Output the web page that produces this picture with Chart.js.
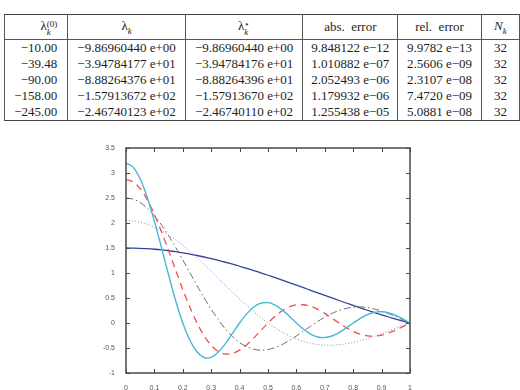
<!DOCTYPE html>
<html>
<head>
<meta charset="utf-8">
<script src="https://cdn.jsdelivr.net/npm/chart.js@4.4.1/dist/chart.umd.min.js"></script>
<style>
  html, body { margin: 0; padding: 0; background: #fff; width: 520px; height: 390px; overflow: hidden; position: relative; }
  #tbl { position: absolute; left: 4px; top: 14px; border-collapse: collapse; table-layout: fixed;
         font-family: "Liberation Serif", "DejaVu Serif", serif; font-size: 13px; color: #1e1e1e; }
  #tbl th, #tbl td { border-left: 1px solid #555; border-right: 1px solid #555; padding: 0; white-space: nowrap; text-align: center; }
  #tbl thead tr { height: 25px; border-top: 1.5px solid #444; border-bottom: 1px solid #555; }
  #tbl tbody tr { height: 15px; }
  #tbl tbody tr:last-child { border-bottom: 1.5px solid #444; }
  #tbl th { font-weight: normal; font-size: 13px; }
  #tbl .c0 { text-align: right; padding-right: 10px; }
  .ss { display: inline-block; vertical-align: -5px; line-height: 8px; font-size: 9px; text-align: left; }
  .ss span { display: block; }
  i { font-style: italic; }
  sub { font-size: 9px; }
  #wrap { position: absolute; left: 90px; top: 140px; width: 330px; height: 250px; }
</style>
</head>
<body>
<table id="tbl">
  <colgroup>
    <col style="width:64px"><col style="width:119px"><col style="width:119px">
    <col style="width:96px"><col style="width:85px"><col style="width:40px">
  </colgroup>
  <thead>
    <tr>
      <th class="c0">λ<span class="ss"><span>(0)</span><span><i>k</i></span></span></th>
      <th>λ<sub><i>k</i></sub></th>
      <th>λ<span class="ss"><span>⋆</span><span><i>k</i></span></span></th>
      <th>abs.&nbsp; error</th>
      <th>rel.&nbsp; error</th>
      <th><i>N</i><sub><i>k</i></sub></th>
    </tr>
  </thead>
  <tbody id="rows"></tbody>
</table>
<div id="wrap"><canvas id="modesCanvas" width="330" height="250"></canvas></div>
<script>
// table values
const lambda0 = ['−10.00', '−39.48', '−90.00', '−158.00', '−245.00'];
const lambdaK = ['−9.86960440 e+00', '−3.94784177 e+01', '−8.88264376 e+01', '−1.57913672 e+02', '−2.46740123 e+02'];
const lambdaStar = ['−9.86960440 e+00', '−3.94784176 e+01', '−8.88264396 e+01', '−1.57913670 e+02', '−2.46740110 e+02'];
const absErr = ['9.848122 e−12', '1.010882 e−07', '2.052493 e−06', '1.179932 e−06', '1.255438 e−05'];
const relErr = ['9.9782 e−13', '2.5606 e−09', '2.3107 e−08', '7.4720 e−09', '5.0881 e−08'];
const nK = ['32', '32', '32', '32', '32'];

// plot values
const xs = [0, 0.025, 0.05, 0.075, 0.1, 0.125, 0.15, 0.175, 0.2, 0.225, 0.25, 0.275, 0.3, 0.325, 0.35, 0.375,
  0.4, 0.425, 0.45, 0.475, 0.5, 0.525, 0.55, 0.575, 0.6, 0.625, 0.65, 0.675, 0.7, 0.725, 0.75, 0.775,
  0.8, 0.825, 0.85, 0.875, 0.9, 0.925, 0.95, 0.975, 1];
const mode1 = [1.5, 1.498, 1.494, 1.486, 1.475, 1.462, 1.445, 1.426, 1.403, 1.378, 1.350, 1.320, 1.288, 1.253,
  1.215, 1.176, 1.135, 1.092, 1.048, 1.002, 0.955, 0.907, 0.857, 0.807, 0.757, 0.706, 0.654, 0.603, 0.552,
  0.501, 0.450, 0.400, 0.351, 0.302, 0.255, 0.209, 0.164, 0.120, 0.079, 0.038, 0];
const mode2 = [2.05, 2.042, 2.016, 1.975, 1.918, 1.846, 1.760, 1.661, 1.552, 1.432, 1.305, 1.172, 1.034, 0.894,
  0.754, 0.615, 0.479, 0.349, 0.224, 0.107, 0, -0.097, -0.183, -0.258, -0.320, -0.369, -0.406, -0.431, -0.443,
  -0.444, -0.435, -0.416, -0.388, -0.352, -0.311, -0.264, -0.213, -0.160, -0.106, -0.052, 0];
const mode3 = [2.5, 2.477, 2.409, 2.297, 2.146, 1.961, 1.747, 1.511, 1.261, 1.005, 0.750, 0.504, 0.273, 0.064,
  -0.119, -0.271, -0.390, -0.475, -0.525, -0.543, -0.531, -0.491, -0.430, -0.351, -0.260, -0.162, -0.064,
  0.031, 0.117, 0.191, 0.250, 0.292, 0.315, 0.321, 0.308, 0.280, 0.238, 0.186, 0.127, 0.064, 0];
const mode4 = [2.87, 2.823, 2.685, 2.464, 2.172, 1.827, 1.448, 1.056, 0.671, 0.314, 0, -0.257, -0.447, -0.569,
  -0.621, -0.609, -0.543, -0.435, -0.298, -0.149, 0, 0.134, 0.244, 0.321, 0.362, 0.365, 0.334, 0.274, 0.192,
  0.097, 0, -0.091, -0.168, -0.224, -0.256, -0.261, -0.241, -0.200, -0.141, -0.072, 0];
const mode5 = [3.2, 3.118, 2.881, 2.509, 2.037, 1.506, 0.960, 0.445, 0, -0.346, -0.576, -0.690, -0.688, -0.579,
  -0.412, -0.208, 0, 0.183, 0.320, 0.396, 0.407, 0.358, 0.262, 0.136, 0, -0.125, -0.222, -0.279, -0.291,
  -0.260, -0.192, -0.101, 0, 0.094, 0.169, 0.215, 0.226, 0.203, 0.152, 0.080, 0];
const xTicks = [0, 0.1, 0.2, 0.3, 0.4, 0.5, 0.6, 0.7, 0.8, 0.9, 1];
const yTicks = [-1, -0.5, 0, 0.5, 1, 1.5, 2, 2.5, 3, 3.5];

function fillTable() {
  const body = document.getElementById('rows');
  lambda0.forEach((v, i) => {
    const tr = document.createElement('tr');
    [v, lambdaK[i], lambdaStar[i], absErr[i], relErr[i], nK[i]].forEach((txt, c) => {
      const td = document.createElement('td');
      td.textContent = txt;
      if (c === 0) td.className = 'c0';
      tr.appendChild(td);
    });
    body.appendChild(tr);
  });
}

// matlab style box with inward ticks
const boxPlugin = {
  id: 'boxPlugin',
  afterDraw(chart) {
    const { ctx, chartArea: a, scales } = chart;
    ctx.save();
    ctx.strokeStyle = '#4a4a4a';
    ctx.lineWidth = 1;
    ctx.beginPath();
    xTicks.forEach(v => {
      const px = Math.round(scales.x.getPixelForValue(v)) + 0.5;
      ctx.moveTo(px, a.bottom); ctx.lineTo(px, a.bottom - 4);
      ctx.moveTo(px, a.top); ctx.lineTo(px, a.top + 4);
    });
    yTicks.forEach(v => {
      const py = Math.round(scales.y.getPixelForValue(v)) + 0.5;
      ctx.moveTo(a.left, py); ctx.lineTo(a.left + 4, py);
      ctx.moveTo(a.right, py); ctx.lineTo(a.right - 4, py);
    });
    ctx.stroke();
    ctx.lineWidth = 1.5;
    ctx.strokeRect(a.left, a.top, a.right - a.left, a.bottom - a.top);
    ctx.restore();
  }
};

function renderChart() {
  const ctx = document.getElementById('modesCanvas');
  const pts = ys => xs.map((x, i) => ({ x: x, y: ys[i] }));
  const tickFont = { family: 'Liberation Sans, Arial, sans-serif', size: 7 };
  const fmt = v => String(+Number(v).toFixed(2));

  new Chart(ctx, {
    type: 'line',
    data: {
      datasets: [
        { data: pts(mode1), borderColor: '#34429a', borderWidth: 1.3, order: 5 },
        { data: pts(mode2), borderColor: '#8088c4', borderWidth: 1, borderDash: [1, 2], order: 4 },
        { data: pts(mode3), borderColor: '#6a6a6a', borderWidth: 1, borderDash: [7, 3, 1.5, 3], order: 3 },
        { data: pts(mode4), borderColor: '#ef5048', borderWidth: 1.3, borderDash: [7, 5], order: 2 },
        { data: pts(mode5), borderColor: '#48b6d8', borderWidth: 1.4, order: 1 }
      ]
    },
    options: {
      responsive: false,
      animation: false,
      devicePixelRatio: 1,
      layout: { padding: { left: 0, right: 10, top: 8, bottom: 0 } },
      elements: { point: { radius: 0 }, line: { tension: 0.3, fill: false } },
      plugins: { legend: { display: false }, tooltip: { enabled: false } },
      scales: {
        x: {
          type: 'linear', min: 0, max: 1,
          grid: { display: false }, border: { display: false },
          afterBuildTicks: s => { s.ticks = xTicks.map(v => ({ value: v })); },
          afterFit: s => { s.height = 17; },
          ticks: { font: tickFont, color: '#555', padding: 3, maxRotation: 0, autoSkip: false, callback: fmt }
        },
        y: {
          min: -1, max: 3.5,
          grid: { display: false }, border: { display: false },
          afterBuildTicks: s => { s.ticks = yTicks.map(v => ({ value: v })); },
          afterFit: s => { s.width = 36; },
          ticks: { font: tickFont, color: '#555', padding: 3, callback: fmt }
        }
      }
    },
    plugins: [boxPlugin]
  });
}

fillTable();
renderChart();
</script>
</body>
</html>
